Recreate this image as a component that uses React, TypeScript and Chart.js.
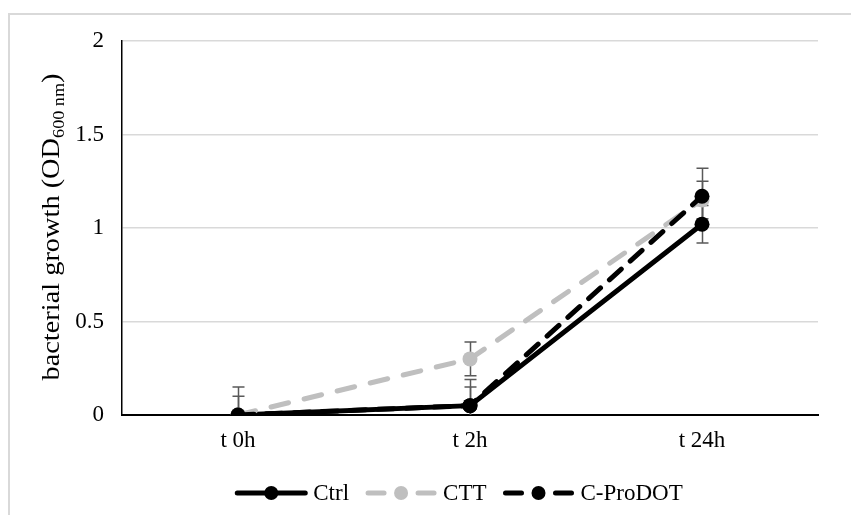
import { useEffect, useRef } from 'react';
import { Chart, registerables } from 'chart.js';

Chart.register(...registerables);

const categories = ['t 0h', 't 2h', 't 24h'];
const seriesNames = ['Ctrl', 'CTT', 'C-ProDOT'];
const ctrlValues = [0, 0.05, 1.02];
const ctrlErrors = [0.15, 0.14, 0.1];
const cttValues = [0, 0.3, 1.15];
const cttErrors = [0.1, 0.09, 0.1];
const cprodotValues = [0, 0.05, 1.17];
const cprodotErrors = [0.02, 0.1, 0.15];
const yTicks = [0, 0.5, 1, 1.5, 2];

const FONT = '"Liberation Serif", "Times New Roman", serif';
const FONT_SIZE = 23;

const errorBarPlugin = {
  id: 'errorBars',
  beforeDatasetsDraw(chart: any) {
    const { ctx, chartArea, scales } = chart;
    const x = scales.x;
    const y = scales.y;
    ctx.save();
    ctx.beginPath();
    ctx.rect(chartArea.left, chartArea.top, chartArea.right - chartArea.left, chartArea.bottom - chartArea.top);
    ctx.clip();
    ctx.strokeStyle = '#595959';
    ctx.lineWidth = 1.5;
    chart.data.datasets.forEach((ds: any) => {
      ds.data.forEach((v: number, i: number) => {
        const e = ds.errorValues[i];
        const px = Math.round(x.getPixelForValue(i)) + 0.5;
        const top = y.getPixelForValue(v + e);
        const bot = y.getPixelForValue(v - e);
        ctx.beginPath();
        ctx.moveTo(px, top);
        ctx.lineTo(px, bot);
        ctx.moveTo(px - 6, top);
        ctx.lineTo(px + 6, top);
        ctx.moveTo(px - 6, bot);
        ctx.lineTo(px + 6, bot);
        ctx.stroke();
      });
    });
    ctx.restore();
  },
};

const yTitlePlugin = {
  id: 'yTitle',
  afterDraw(chart: any) {
    const { ctx, chartArea } = chart;
    const main = 'bacterial growth (OD';
    const sub = '600 nm';
    const end = ')';
    const size = 25;
    const subSize = Math.round(size * 0.62);
    ctx.save();
    ctx.font = `${size}px ${FONT}`;
    const wMain = ctx.measureText(main).width;
    const wEnd = ctx.measureText(end).width;
    ctx.font = `${subSize}px ${FONT}`;
    const wSub = ctx.measureText(sub).width;
    const total = wMain + wSub + wEnd;
    const stretch = 307 / total;
    const cy = (chartArea.top + chartArea.bottom) / 2 - 1;
    ctx.translate(49, cy);
    ctx.rotate(-Math.PI / 2);
    ctx.scale(stretch, 1);
    ctx.fillStyle = '#000';
    ctx.textBaseline = 'alphabetic';
    ctx.textAlign = 'left';
    let x0 = -total / 2;
    ctx.font = `${size}px ${FONT}`;
    ctx.fillText(main, x0, 0);
    x0 += wMain;
    ctx.font = `${subSize}px ${FONT}`;
    ctx.fillText(sub, x0, 5);
    x0 += wSub;
    ctx.font = `${size}px ${FONT}`;
    ctx.fillText(end, x0, 0);
    ctx.restore();
  },
};

const legendPlugin = {
  id: 'customLegend',
  afterDraw(chart: any) {
    const { ctx, chartArea } = chart;
    ctx.save();
    ctx.font = `${FONT_SIZE}px ${FONT}`;
    const sampleW = 72;
    const textGap = 6;
    const itemGap = 16;
    const items = chart.data.datasets.map((ds: any) => ({ ds, tw: ctx.measureText(ds.label).width }));
    const total =
      items.reduce((s: number, it: any) => s + sampleW + textGap + it.tw, 0) + itemGap * (items.length - 1);
    let x0 = (chartArea.left + chartArea.right) / 2 - 11 - total / 2;
    const yc = 478;
    items.forEach((it: any) => {
      const ds = it.ds;
      ctx.save();
      ctx.strokeStyle = ds.borderColor;
      ctx.lineWidth = ds.borderWidth;
      ctx.lineCap = 'round';
      if (ds.borderDash && ds.borderDash.length) {
        ctx.beginPath();
        ctx.moveTo(x0 + 3, yc);
        ctx.lineTo(x0 + 19, yc);
        ctx.moveTo(x0 + sampleW - 19, yc);
        ctx.lineTo(x0 + sampleW - 3, yc);
        ctx.stroke();
      } else {
        ctx.beginPath();
        ctx.moveTo(x0 + 2, yc);
        ctx.lineTo(x0 + sampleW - 2, yc);
        ctx.stroke();
      }
      ctx.fillStyle = ds.pointBackgroundColor;
      ctx.beginPath();
      ctx.arc(x0 + sampleW / 2, yc, 7, 0, Math.PI * 2);
      ctx.fill();
      ctx.restore();
      ctx.fillStyle = '#000';
      ctx.textBaseline = 'middle';
      ctx.textAlign = 'left';
      ctx.fillText(ds.label, x0 + sampleW + textGap, yc + 1);
      x0 += sampleW + textGap + it.tw + itemGap;
    });
    ctx.restore();
  },
};

export default function App() {
  const canvasRef = useRef<HTMLCanvasElement | null>(null);

  useEffect(() => {
    if (!canvasRef.current) return;
    const makeDs = (label: string, data: number[], errs: number[], color: string, dash: number[], order: number) => ({
      label,
      data,
      errorValues: errs,
      borderColor: color,
      backgroundColor: color,
      pointBackgroundColor: color,
      pointBorderColor: color,
      pointBorderWidth: 0,
      pointRadius: 7.5,
      pointHoverRadius: 7.5,
      borderWidth: 5,
      borderDash: dash,
      borderCapStyle: 'round' as const,
      tension: 0,
      order,
    });
    const chart = new Chart(canvasRef.current, {
      type: 'line',
      data: {
        labels: categories,
        datasets: [
          makeDs(seriesNames[0], ctrlValues, ctrlErrors, '#000000', [], 3),
          makeDs(seriesNames[1], cttValues, cttErrors, '#bfbfbf', [18, 16], 2),
          makeDs(seriesNames[2], cprodotValues, cprodotErrors, '#000000', [16, 12], 1),
        ],
      },
      options: {
        responsive: false,
        animation: false,
        devicePixelRatio: 1,
        layout: { padding: { left: 0, right: 33, top: 26, bottom: 0 } },
        plugins: {
          legend: { display: false },
          tooltip: { enabled: false },
          title: { display: false },
        },
        scales: {
          x: {
            type: 'category',
            offset: true,
            grid: { display: false, drawTicks: false },
            border: { display: true, color: '#000000', width: 2 },
            ticks: {
              color: '#000000',
              font: { family: FONT, size: FONT_SIZE },
              padding: 12,
            },
            afterFit: (scale: any) => {
              scale.height = 100;
              scale.paddingLeft = 0;
              scale.paddingRight = 0;
            },
          },
          y: {
            min: yTicks[0],
            max: yTicks[yTicks.length - 1],
            grid: { color: '#d9d9d9', lineWidth: 1.5, drawTicks: false },
            border: { display: true, color: '#000000', width: 1.5 },
            ticks: {
              stepSize: yTicks[1] - yTicks[0],
              color: '#000000',
              font: { family: FONT, size: FONT_SIZE },
              padding: 18,
              callback: (v: any) => String(Number(v)),
            },
            afterFit: (scale: any) => {
              scale.width = 112;
              scale.paddingTop = 0;
              scale.paddingBottom = 0;
            },
          },
        },
      },
      plugins: [errorBarPlugin, yTitlePlugin, legendPlugin],
    } as any);
    return () => chart.destroy();
  }, []);

  return (
    <div
      style={{
        position: 'fixed',
        left: 8,
        top: 13,
        width: 843,
        height: 502,
        borderTop: '2px solid #d9d9d9',
        borderLeft: '2px solid #d9d9d9',
        background: '#fff',
        overflow: 'hidden',
      }}
    >
      <canvas ref={canvasRef} width={841} height={500} style={{ display: 'block' }} />
    </div>
  );
}
